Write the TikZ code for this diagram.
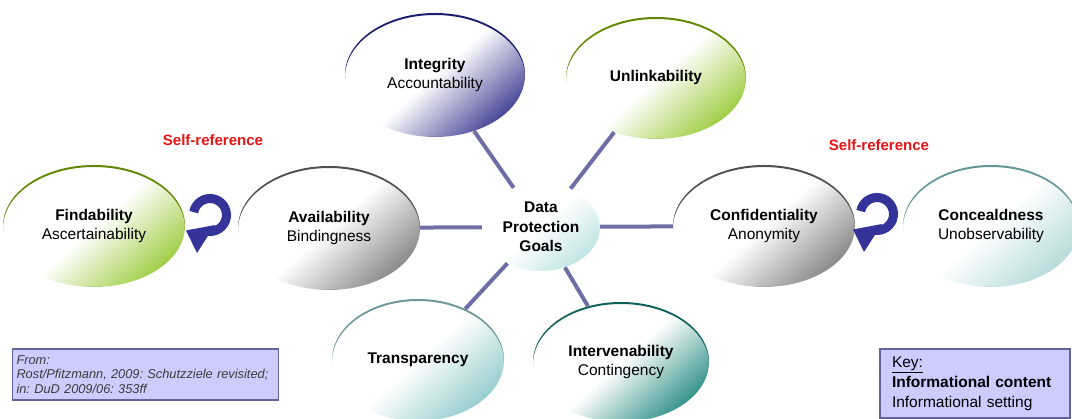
\documentclass[tikz,border=0pt]{standalone}
\usepackage{fontspec}
\setmainfont{Liberation Sans}
\usetikzlibrary{shapes.geometric}
\definecolor{goalc}{RGB}{150,200,60}
\definecolor{gfill}{RGB}{150,200,50}
\definecolor{gedge}{RGB}{95,135,0}
\definecolor{grfill}{RGB}{125,125,125}
\definecolor{gredge}{RGB}{80,80,80}
\definecolor{nfill}{RGB}{50,50,140}
\definecolor{nedge}{RGB}{30,30,110}
\definecolor{cfill}{RGB}{185,225,225}
\definecolor{pfill}{RGB}{175,215,215}
\definecolor{pedge}{RGB}{100,150,150}
\definecolor{tfill}{RGB}{140,200,200}
\definecolor{tedge}{RGB}{110,150,150}
\definecolor{ifill}{RGB}{30,135,125}
\definecolor{iedge}{RGB}{15,95,90}
\definecolor{connc}{RGB}{110,110,165}
\definecolor{arrowc}{RGB}{51,51,153}
\definecolor{selfc}{RGB}{230,20,20}
\definecolor{boxfill}{RGB}{204,204,255}
\definecolor{boxedge}{RGB}{100,100,150}
\definecolor{boxtext}{RGB}{60,60,60}
\pgfdeclarehorizontalshading[goalc]{goalshade}{100bp}{color(0bp)=(white); color(25bp)=(white); color(50bp)=(white); color(78bp)=(goalc); color(100bp)=(goalc)}
\newcommand\goalfont{\fontsize{15.5}{19.5}\selectfont}
\tikzset{
  goal/.style n args={4}{ellipse, minimum width=#1*2pt, minimum height=#2*2pt,
    inner sep=0pt, align=center, font=\goalfont,
    /utils/exec={\colorlet{goalc}{#3}}, shading=goalshade, shading angle=-48,
    path picture={\fill[#4, even odd rule]
      (path picture bounding box.south west) rectangle (path picture bounding box.north east)
      ([yshift=-2pt]path picture bounding box.center) ellipse[x radius=#1pt, y radius=#2pt];}},
  conn/.style={draw=connc, line width=4pt},
  selftext/.style={text=selfc, font=\fontsize{15}{18}\selectfont\bfseries},
  infobox/.style={draw=boxedge, line width=1.6pt, fill=boxfill, align=left},
  selfref/.pic={
    \draw[arrowc, line width=9pt] (170:16.5) arc[start angle=170, end angle=-100, radius=16.5];
    \fill[arrowc] (5,-10) -- (-13,-38) -- (-24,-15.5) -- cycle;
  }
}
\begin{document}
\begin{tikzpicture}[x=1pt,y=1pt]
\useasboundingbox (0,0) rectangle (1072,419);
\clip (0,0) rectangle (1072,419);
% nodes
\node[goal={59}{44}{cfill}{white}] (dpg) at (541,192) {\textbf{Data}\\\textbf{Protection}\\\textbf{Goals}};
\node[goal={91}{61}{gfill}{gedge}] (find) at (94,193) {\textbf{Findability}\\Ascertainability};
\node[goal={91}{62}{grfill}{gredge}] (avail) at (329,191) {\textbf{Availability}\\Bindingness};
\node[goal={90}{62}{nfill}{nedge}] (integ) at (435,344) {\textbf{Integrity}\\Accountability};
\node[goal={90}{61}{gfill}{gedge}] (unlink) at (656,341) {\textbf{Unlinkability}};
\node[goal={91}{61}{grfill}{gredge}] (conf) at (764,193) {\textbf{Confidentiality}\\Anonymity};
\node[goal={88}{61}{pfill}{pedge}] (conc) at (991,193) {\textbf{Concealdness}\\Unobservability};
\node[goal={86}{61}{tfill}{tedge}] (transp) at (418,59) {\textbf{Transparency}};
\node[goal={88}{60}{ifill}{iedge}] (interv) at (621,57) {\textbf{Intervenability}\\Contingency};
% connectors
\draw[conn] (dpg) -- (avail);
\draw[conn] (dpg) -- (integ);
\draw[conn] (dpg) -- (unlink);
\draw[conn] (dpg) -- (conf);
\draw[conn] (dpg) -- (transp);
\draw[conn] (dpg) -- (interv);
% self references
\node[selftext] (selfl) at (213,279) {Self-reference};
\node[selftext] (selfr) at (879,274) {Self-reference};
\pic (arrl) at (210,204) {selfref};
\pic (arrr) at (877,205) {selfref};
% boxes
\node[infobox, text width=258pt, inner xsep=4pt, minimum width=265pt, minimum height=51pt,
      font=\fontsize{12.8}{14.5}\selectfont\itshape\frenchspacing, text=boxtext] (from) at (145.5,44.5)
  {From:\\Rost/Pfitzmann, 2009: Schutzziele revisited;\\in: DuD 2009/06: 353ff};
\node[infobox, text width=166pt, inner xsep=12pt, minimum height=69pt,
      font=\fontsize{15.5}{20}\selectfont] (key) at (975,35.5)
  {\underline{Key:}\\\textbf{Informational content}\\Informational setting};
\end{tikzpicture}
\end{document}
